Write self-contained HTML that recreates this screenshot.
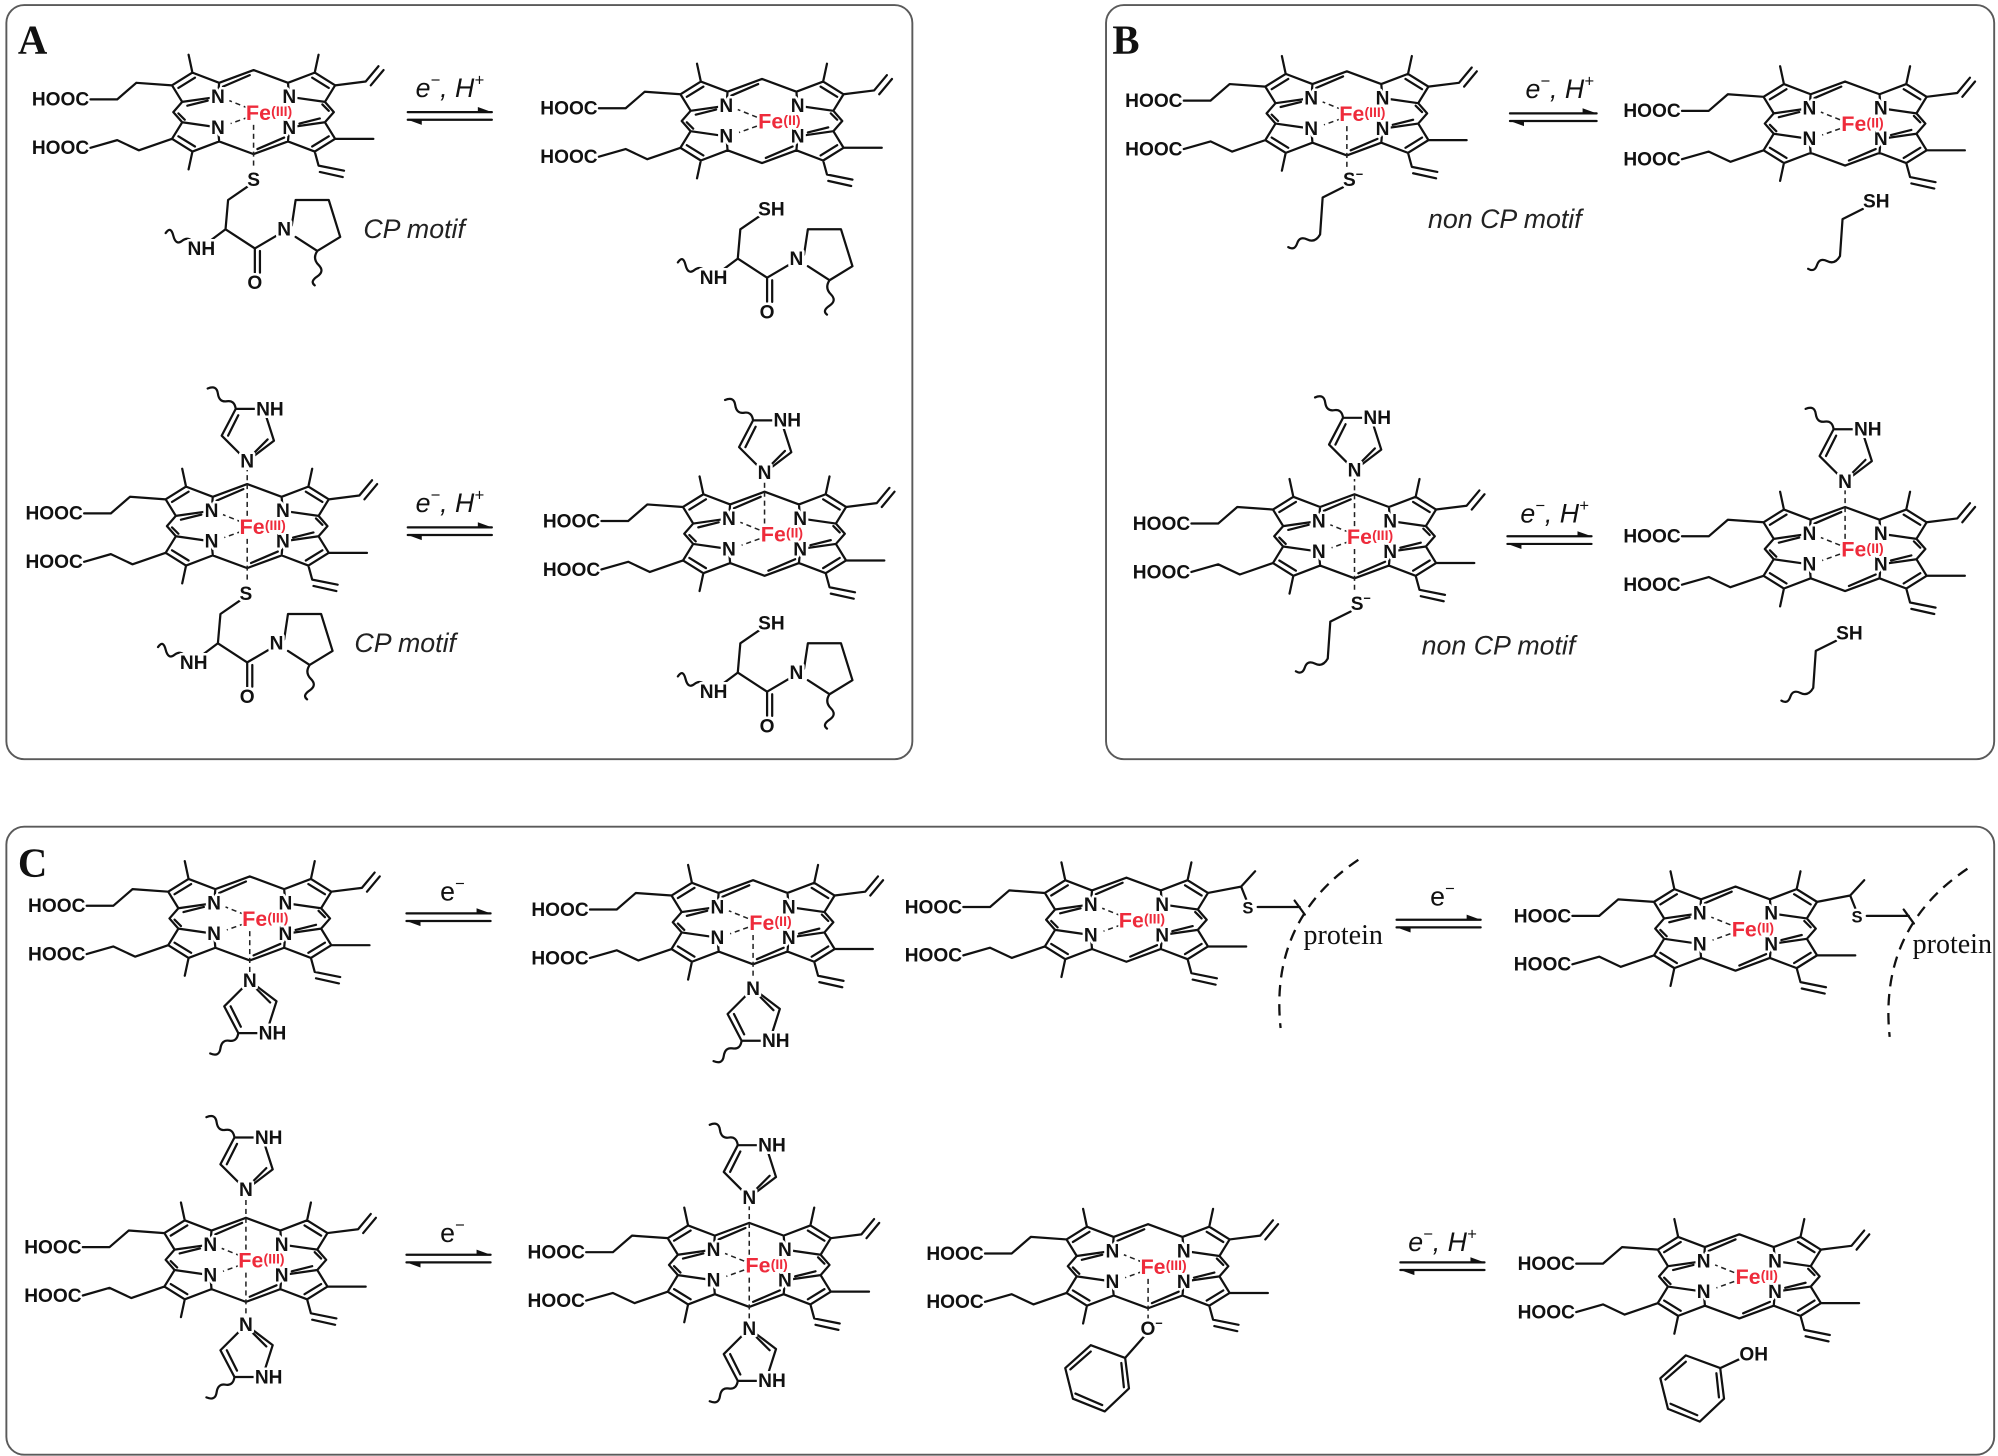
<!DOCTYPE html>
<html><head><meta charset="utf-8"><style>
html,body{margin:0;padding:0;background:#fff}
svg{display:block}
.h{font:bold 15px "Liberation Sans",sans-serif;text-anchor:end;fill:#111}
.n{font:bold 15px "Liberation Sans",sans-serif;text-anchor:middle;fill:#111;paint-order:stroke;stroke:#fff;stroke-width:4px;stroke-linejoin:round}
.t{font:bold 15px "Liberation Sans",sans-serif;fill:#111;paint-order:stroke;stroke:#fff;stroke-width:4px;stroke-linejoin:round}
.fe{font:bold 17px "Liberation Sans",sans-serif;fill:#ee2b3b;paint-order:stroke;stroke:#fff;stroke-width:3px}
.lab{font:italic 21px "Liberation Sans",sans-serif;text-anchor:middle;fill:#111}
.lab2{font:21px "Liberation Sans",sans-serif;text-anchor:middle;fill:#111}
.mot{font:italic 21px "Liberation Sans",sans-serif;text-anchor:middle;fill:#222}
.big{font:bold 32px "Liberation Serif",serif;fill:#111}
.pro{font:22px "Liberation Serif",serif;fill:#111}
.ln{fill:none;stroke:#111;stroke-width:1.75;stroke-linejoin:round;stroke-linecap:round}
.ds{fill:none;stroke:#222;stroke-width:1.2;stroke-dasharray:4 3}
.box{fill:none;stroke:#5a5a5a;stroke-width:1.5}
</style></head><body>
<svg width="1998" height="1456" viewBox="0 0 1568 1143" preserveAspectRatio="none" xmlns="http://www.w3.org/2000/svg">
<defs>
<g id="por">
<path class="ln" d="M-28,-12 L-27,-23 L-48,-31 L-64,-21 L-56,-8 Z M28,-12 L27,-23 L48,-31 L64,-21 L56,-8 Z M-28,12 L-27,23 L-48,31 L-64,21 L-56,8 Z M28,12 L27,23 L48,31 L64,21 L56,8 Z
M-27,-23 L0,-33 L27,-23 M-27,23 L0,33 L27,23 M-56,-8 L-63,0 L-56,8 M56,-8 L63,0 L56,8
M-46,-27 L-59,-19 M46,-27 L59,-19 M-46,27 L-59,19 M46,27 L59,19 M-24,-20 L-3,-29 M24,20 L3,29 M-52,-5 L-36,-9 M52,5 L36,9 M-59,1 L-54,6 M59,-1 L54,-6
M-48,-31 L-51,-45 M48,-31 L51,-45 M-64,-21 L-92,-23 L-107,-10 L-128,-10 M-64,21 L-90,30 L-107,22 L-128,28 M-48,31 L-51,45 M64,21 L94,21 M48,31 L51,42 L71,46 M52,47 L70,51"/>
<path class="ds" d="M-4,-3 L-19,-9 M-4,4 L-18,9"/>
</g>
<path id="vin" class="ln" d="M64,-21 L88,-24 L98,-36 M92,-21 L102,-33"/>
<g id="imid"><path class="ln" d="M0,0 L-20,-20 L-9,-41 L13,-41 L21,-16 Z M-15,-20 L-7,-36 M16,-17 L4,-5 M-9,-41 Q-10,-48 -16,-47 T-23,-53 T-31,-57"/></g>
<g id="cp"><path class="ln" d="M-4,5 L-20,16 L-22,39 L-34,48 M-22,39 L1,54 L18,44 M1,54 L1,73 M5,56 L5,73 M30,36 L33,16 L59,16 L68,45 L50,56 L33,45 M50,56 Q46,62 51,67 T50,76 T48,83 M-47,50 Q-51,44 -56,48 T-63,44 T-69,42"/></g>
<g id="sch"><path class="ln" d="M-5,6 L-21,14 L-23,43 Q-27,50 -33,47 T-41,50 T-48,53"/></g>
<g id="thio"><path class="ln" d="M64,-21 L90,-26 L101,-38 M90,-26 L94,-16 M103,-10 L122,-10 L136,-10 M132,-15 L140,-4"/>
<path fill="none" stroke="#111" stroke-width="1.8" stroke-dasharray="9 6" d="M182,-47 Q112,0 121,85"/></g>
<g id="ring"><path class="ln" d="M0,0 L-27,-10 L-47,8 L-41,32 L-16,42 L3,24 Z M-27,-5 L-43,9 M-39,28 L-18,37 M-1,23 L-3,4"/></g>
</defs>

<rect class="box" x="5" y="4" width="711" height="592" rx="14"/>
<rect class="box" x="868" y="4" width="697" height="592" rx="14"/>
<rect class="box" x="5" y="649" width="1560" height="493" rx="14"/>
<text class="big" x="14" y="42">A</text>
<text class="big" x="873" y="42">B</text>
<text class="big" x="14" y="688">C</text>

<g class="ln">
<path d="M320,88 L386,88 M320,94 L386,94"/><path d="M320,414 L386,414 M320,420 L386,420"/>
<path d="M1185,89 L1253,89 M1185,95 L1253,95"/><path d="M1183,421 L1249,421 M1183,427 L1249,427"/>
<path d="M319,717 L385,717 M319,723 L385,723"/><path d="M319,985 L385,985 M319,991 L385,991"/>
<path d="M1096,722 L1162,722 M1096,728 L1162,728"/><path d="M1099,991 L1165,991 M1099,997 L1165,997"/>
</g>
<g fill="#111">
<path d="M386,88 L375,84 L375,88Z M320,94 L331,98 L331,94Z"/>
<path d="M386,414 L375,410 L375,414Z M320,420 L331,424 L331,420Z"/>
<path d="M1253,89 L1242,85 L1242,89Z M1185,95 L1196,99 L1196,95Z"/>
<path d="M1249,421 L1238,417 L1238,421Z M1183,427 L1194,431 L1194,427Z"/>
<path d="M385,717 L374,713 L374,717Z M319,723 L330,727 L330,723Z"/>
<path d="M385,985 L374,981 L374,985Z M319,991 L330,995 L330,991Z"/>
<path d="M1162,722 L1151,718 L1151,722Z M1096,728 L1107,732 L1107,728Z"/>
<path d="M1165,991 L1154,987 L1154,991Z M1099,997 L1110,1001 L1110,997Z"/>
</g>
<text class="lab" x="353" y="76">e<tspan font-size="13" dy="-9">−</tspan><tspan dy="9">, H</tspan><tspan font-size="13" dy="-9">+</tspan></text>
<text class="lab" x="353" y="402">e<tspan font-size="13" dy="-9">−</tspan><tspan dy="9">, H</tspan><tspan font-size="13" dy="-9">+</tspan></text>
<text class="lab" x="1224" y="77">e<tspan font-size="13" dy="-9">−</tspan><tspan dy="9">, H</tspan><tspan font-size="13" dy="-9">+</tspan></text>
<text class="lab" x="1220" y="410">e<tspan font-size="13" dy="-9">−</tspan><tspan dy="9">, H</tspan><tspan font-size="13" dy="-9">+</tspan></text>
<text class="lab2" x="355" y="707">e<tspan font-size="13" dy="-9">−</tspan></text>
<text class="lab2" x="355" y="975">e<tspan font-size="13" dy="-9">−</tspan></text>
<text class="lab2" x="1132" y="711">e<tspan font-size="13" dy="-9">−</tspan></text>
<text class="lab" x="1132" y="982">e<tspan font-size="13" dy="-9">−</tspan><tspan dy="9">, H</tspan><tspan font-size="13" dy="-9">+</tspan></text>

<text class="mot" x="325" y="187">CP motif</text>
<text class="mot" x="318" y="512">CP motif</text>
<text class="mot" x="1181" y="179">non CP motif</text>
<text class="mot" x="1176" y="514">non CP motif</text>

<g transform="translate(199,88)"><use href="#por"/><use href="#vin"/><path class="ds" d="M0,10 L0,45"/>
<text class="n" x="-28" y="-7">N</text><text class="n" x="28" y="-7">N</text><text class="n" x="-28" y="17">N</text><text class="n" x="28" y="17">N</text>
<text class="h" x="-129" y="-5">HOOC</text><text class="h" x="-129" y="33">HOOC</text>
<text class="fe" x="-6" y="6">Fe<tspan font-size="11" dy="-3">(III)</tspan></text></g>
<g transform="translate(199,141)"><use href="#cp"/><text class="n" x="0" y="5">S</text><text class="n" x="-41" y="59">NH</text><text class="n" x="1" y="86">O</text><text class="n" x="24" y="44">N</text></g>
<g transform="translate(598,95)"><use href="#por"/><use href="#vin"/>
<text class="n" x="-28" y="-7">N</text><text class="n" x="28" y="-7">N</text><text class="n" x="-28" y="17">N</text><text class="n" x="28" y="17">N</text>
<text class="h" x="-129" y="-5">HOOC</text><text class="h" x="-129" y="33">HOOC</text>
<text class="fe" x="-3" y="6">Fe<tspan font-size="11" dy="-3">(II)</tspan></text></g>
<g transform="translate(601,164)"><use href="#cp"/><text class="t" x="-6" y="5">SH</text><text class="n" x="-41" y="59">NH</text><text class="n" x="1" y="86">O</text><text class="n" x="24" y="44">N</text></g>
<g transform="translate(194,413)"><use href="#por"/><use href="#vin"/><path class="ds" d="M0,10 L0,45 M0,-8 L0,-44"/>
<use href="#imid" transform="translate(0,-51)"/><text class="n" x="0" y="-46">N</text><text class="t" x="7" y="-87">NH</text>
<text class="n" x="-28" y="-7">N</text><text class="n" x="28" y="-7">N</text><text class="n" x="-28" y="17">N</text><text class="n" x="28" y="17">N</text>
<text class="h" x="-129" y="-5">HOOC</text><text class="h" x="-129" y="33">HOOC</text>
<text class="fe" x="-6" y="6">Fe<tspan font-size="11" dy="-3">(III)</tspan></text></g>
<g transform="translate(193,466)"><use href="#cp"/><text class="n" x="0" y="5">S</text><text class="n" x="-41" y="59">NH</text><text class="n" x="1" y="86">O</text><text class="n" x="24" y="44">N</text></g>
<g transform="translate(600,419)"><use href="#por"/><use href="#vin"/><path class="ds" d="M0,-8 L0,-42"/>
<use href="#imid" transform="translate(0,-48)"/><text class="n" x="0" y="-43">N</text><text class="t" x="7" y="-84">NH</text>
<text class="n" x="-28" y="-7">N</text><text class="n" x="28" y="-7">N</text><text class="n" x="-28" y="17">N</text><text class="n" x="28" y="17">N</text>
<text class="h" x="-129" y="-5">HOOC</text><text class="h" x="-129" y="33">HOOC</text>
<text class="fe" x="-3" y="6">Fe<tspan font-size="11" dy="-3">(II)</tspan></text></g>
<g transform="translate(601,489)"><use href="#cp"/><text class="t" x="-6" y="5">SH</text><text class="n" x="-41" y="59">NH</text><text class="n" x="1" y="86">O</text><text class="n" x="24" y="44">N</text></g>

<g transform="translate(1057,89)"><use href="#por"/><use href="#vin"/><path class="ds" d="M0,10 L0,44"/>
<text class="n" x="-28" y="-7">N</text><text class="n" x="28" y="-7">N</text><text class="n" x="-28" y="17">N</text><text class="n" x="28" y="17">N</text>
<text class="h" x="-129" y="-5">HOOC</text><text class="h" x="-129" y="33">HOOC</text>
<text class="fe" x="-6" y="6">Fe<tspan font-size="11" dy="-3">(III)</tspan></text></g>
<g transform="translate(1059,141)"><use href="#sch"/><text class="t" x="-5" y="5">S<tspan font-size="10" dy="-6">−</tspan></text></g>
<g transform="translate(1448,97)"><use href="#por"/><use href="#vin"/>
<text class="n" x="-28" y="-7">N</text><text class="n" x="28" y="-7">N</text><text class="n" x="-28" y="17">N</text><text class="n" x="28" y="17">N</text>
<text class="h" x="-129" y="-5">HOOC</text><text class="h" x="-129" y="33">HOOC</text>
<text class="fe" x="-3" y="6">Fe<tspan font-size="11" dy="-3">(II)</tspan></text></g>
<g transform="translate(1467,158)"><use href="#sch"/><text class="t" x="-5" y="5">SH</text></g>
<g transform="translate(1063,421)"><use href="#por"/><use href="#vin"/><path class="ds" d="M0,10 L0,45 M0,-8 L0,-45"/>
<use href="#imid" transform="translate(0,-52)"/><text class="n" x="0" y="-47">N</text><text class="t" x="7" y="-88">NH</text>
<text class="n" x="-28" y="-7">N</text><text class="n" x="28" y="-7">N</text><text class="n" x="-28" y="17">N</text><text class="n" x="28" y="17">N</text>
<text class="h" x="-129" y="-5">HOOC</text><text class="h" x="-129" y="33">HOOC</text>
<text class="fe" x="-6" y="6">Fe<tspan font-size="11" dy="-3">(III)</tspan></text></g>
<g transform="translate(1065,474)"><use href="#sch"/><text class="t" x="-5" y="5">S<tspan font-size="10" dy="-6">−</tspan></text></g>
<g transform="translate(1448,431)"><use href="#por"/><use href="#vin"/><path class="ds" d="M0,-8 L0,-46"/>
<use href="#imid" transform="translate(0,-53)"/><text class="n" x="0" y="-48">N</text><text class="t" x="7" y="-89">NH</text>
<text class="n" x="-28" y="-7">N</text><text class="n" x="28" y="-7">N</text><text class="n" x="-28" y="17">N</text><text class="n" x="28" y="17">N</text>
<text class="h" x="-129" y="-5">HOOC</text><text class="h" x="-129" y="33">HOOC</text>
<text class="fe" x="-3" y="6">Fe<tspan font-size="11" dy="-3">(II)</tspan></text></g>
<g transform="translate(1446,497)"><use href="#sch"/><text class="t" x="-5" y="5">SH</text></g>

<g transform="translate(196,721)"><use href="#por"/><use href="#vin"/><path class="ds" d="M0,10 L0,42"/>
<use href="#imid" transform="translate(0,49) scale(1,-1)"/><text class="n" x="0" y="54">N</text><text class="t" x="7" y="95">NH</text>
<text class="n" x="-28" y="-7">N</text><text class="n" x="28" y="-7">N</text><text class="n" x="-28" y="17">N</text><text class="n" x="28" y="17">N</text>
<text class="h" x="-129" y="-5">HOOC</text><text class="h" x="-129" y="33">HOOC</text>
<text class="fe" x="-6" y="6">Fe<tspan font-size="11" dy="-3">(III)</tspan></text></g>
<g transform="translate(591,724)"><use href="#por"/><use href="#vin"/><path class="ds" d="M0,10 L0,45"/>
<use href="#imid" transform="translate(0,52) scale(1,-1)"/><text class="n" x="0" y="57">N</text><text class="t" x="7" y="98">NH</text>
<text class="n" x="-28" y="-7">N</text><text class="n" x="28" y="-7">N</text><text class="n" x="-28" y="17">N</text><text class="n" x="28" y="17">N</text>
<text class="h" x="-129" y="-5">HOOC</text><text class="h" x="-129" y="33">HOOC</text>
<text class="fe" x="-3" y="6">Fe<tspan font-size="11" dy="-3">(II)</tspan></text></g>
<g transform="translate(884,722)"><use href="#por"/><use href="#thio"/>
<text class="t" x="91" y="-5" style="font-size:13px">S</text><text class="pro" x="139" y="19">protein</text>
<text class="n" x="-28" y="-7">N</text><text class="n" x="28" y="-7">N</text><text class="n" x="-28" y="17">N</text><text class="n" x="28" y="17">N</text>
<text class="h" x="-129" y="-5">HOOC</text><text class="h" x="-129" y="33">HOOC</text>
<text class="fe" x="-6" y="6">Fe<tspan font-size="11" dy="-3">(III)</tspan></text></g>
<g transform="translate(1362,729)"><use href="#por"/><use href="#thio"/>
<text class="t" x="91" y="-5" style="font-size:13px">S</text><text class="pro" x="139" y="19">protein</text>
<text class="n" x="-28" y="-7">N</text><text class="n" x="28" y="-7">N</text><text class="n" x="-28" y="17">N</text><text class="n" x="28" y="17">N</text>
<text class="h" x="-129" y="-5">HOOC</text><text class="h" x="-129" y="33">HOOC</text>
<text class="fe" x="-3" y="6">Fe<tspan font-size="11" dy="-3">(II)</tspan></text></g>
<g transform="translate(193,989)"><use href="#por"/><use href="#vin"/><path class="ds" d="M0,-8 L0,-48 M0,10 L0,44"/>
<use href="#imid" transform="translate(0,-55)"/><text class="n" x="0" y="-50">N</text><text class="t" x="7" y="-91">NH</text>
<use href="#imid" transform="translate(0,51) scale(1,-1)"/><text class="n" x="0" y="56">N</text><text class="t" x="7" y="97">NH</text>
<text class="n" x="-28" y="-7">N</text><text class="n" x="28" y="-7">N</text><text class="n" x="-28" y="17">N</text><text class="n" x="28" y="17">N</text>
<text class="h" x="-129" y="-5">HOOC</text><text class="h" x="-129" y="33">HOOC</text>
<text class="fe" x="-6" y="6">Fe<tspan font-size="11" dy="-3">(III)</tspan></text></g>
<g transform="translate(588,993)"><use href="#por"/><use href="#vin"/><path class="ds" d="M0,-8 L0,-46 M0,10 L0,43"/>
<use href="#imid" transform="translate(0,-53)"/><text class="n" x="0" y="-48">N</text><text class="t" x="7" y="-89">NH</text>
<use href="#imid" transform="translate(0,50) scale(1,-1)"/><text class="n" x="0" y="55">N</text><text class="t" x="7" y="96">NH</text>
<text class="n" x="-28" y="-7">N</text><text class="n" x="28" y="-7">N</text><text class="n" x="-28" y="17">N</text><text class="n" x="28" y="17">N</text>
<text class="h" x="-129" y="-5">HOOC</text><text class="h" x="-129" y="33">HOOC</text>
<text class="fe" x="-3" y="6">Fe<tspan font-size="11" dy="-3">(II)</tspan></text></g>
<g transform="translate(901,994)"><use href="#por"/><use href="#vin"/><path class="ds" d="M0,10 L0,41"/>
<path class="ln" d="M-3,55 L-18,72"/><use href="#ring" transform="translate(-18,72)"/>
<text class="t" x="-6" y="54">O<tspan font-size="10" dy="-6">−</tspan></text>
<text class="n" x="-28" y="-7">N</text><text class="n" x="28" y="-7">N</text><text class="n" x="-28" y="17">N</text><text class="n" x="28" y="17">N</text>
<text class="h" x="-129" y="-5">HOOC</text><text class="h" x="-129" y="33">HOOC</text>
<text class="fe" x="-6" y="6">Fe<tspan font-size="11" dy="-3">(III)</tspan></text></g>
<g transform="translate(1365,1002)"><use href="#por"/><use href="#vin"/>
<path class="ln" d="M0,65 L-15,72"/><use href="#ring" transform="translate(-15,72)"/>
<text class="t" x="0" y="66">OH</text>
<text class="n" x="-28" y="-7">N</text><text class="n" x="28" y="-7">N</text><text class="n" x="-28" y="17">N</text><text class="n" x="28" y="17">N</text>
<text class="h" x="-129" y="-5">HOOC</text><text class="h" x="-129" y="33">HOOC</text>
<text class="fe" x="-3" y="6">Fe<tspan font-size="11" dy="-3">(II)</tspan></text></g>
</svg>
</body></html>
